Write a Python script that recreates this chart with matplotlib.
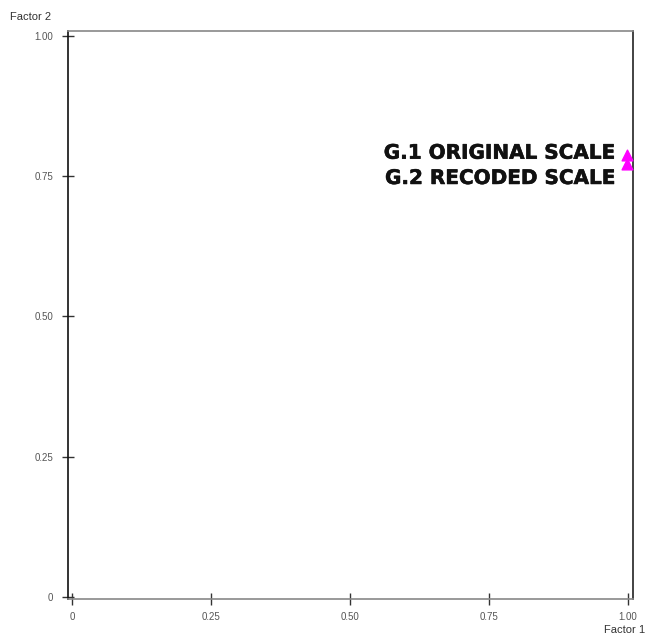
import matplotlib
matplotlib.use("Agg")
import matplotlib.pyplot as plt
import matplotlib.patheffects as pe

labels = ["G.1 ORIGINAL SCALE", "G.2 RECODED SCALE"]
factor1 = [0.998, 0.998]
factor2 = [0.788, 0.772]
ticks = [0, 0.25, 0.50, 0.75, 1.00]
tick_labels = ["0", "0.25", "0.50", "0.75", "1.00"]

W, H = 648, 636
fig = plt.figure(figsize=(W / 100, H / 100), dpi=100)
ax = fig.add_axes([68 / W, (H - 599) / H, (633 - 68) / W, (599 - 31) / H])
ax.set_xlim(-0.007, 1.009)
ax.set_ylim(-0.004, 1.009)

ax.scatter(factor1, factor2, marker="^", s=60, color="#ff00ff", zorder=3)
stroke = [pe.withStroke(linewidth=0.4, foreground="#111111")]
ax.text(0.978, 0.791, labels[0], ha="right", va="center", fontsize=14.4,
        fontweight="bold", family="DejaVu Sans", color="#111111",
        path_effects=stroke)
ax.text(0.978, 0.746, labels[1], ha="right", va="center", fontsize=14.4,
        fontweight="bold", family="DejaVu Sans", color="#111111",
        path_effects=stroke)

ax.set_xticks(ticks)
ax.set_xticklabels(tick_labels)
ax.set_yticks(ticks)
ax.set_yticklabels(tick_labels)
ax.tick_params(axis="both", direction="inout", length=9, width=1,
               labelsize=7, labelcolor="#555555", colors="#333333")
ax.tick_params(axis="y", pad=6)
ax.tick_params(axis="x", pad=5)
for lab in ax.get_xticklabels() + ax.get_yticklabels():
    lab.set_family("Liberation Sans")

ax.spines["left"].set_color("#111111")
ax.spines["right"].set_color("#222222")
ax.spines["top"].set_color("#888888")
ax.spines["bottom"].set_color("#888888")
for s in ax.spines.values():
    s.set_linewidth(1.2)

fig.text(10 / W, 1 - 17 / H, "Factor 2", fontsize=8, family="Liberation Sans",
         color="#333333", ha="left", va="center")
fig.text(645 / W, 1 - 630 / H, "Factor 1", fontsize=8, family="Liberation Sans",
         color="#333333", ha="right", va="center")

fig.savefig("out.png", dpi=100)
